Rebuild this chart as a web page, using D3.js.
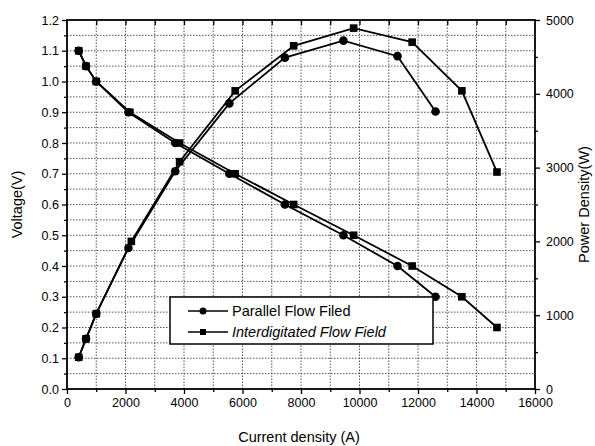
<!DOCTYPE html>
<head>
<meta charset="utf-8">
<style>
body { margin: 0; background: #fff; }
text { font-family: Arial, "Liberation Sans", sans-serif; fill: #000; }
.grid line { stroke: #444; stroke-width: 0.9px; stroke-dasharray: 1.5,1.5; }
.series { fill: none; stroke: #000; stroke-width: 1.8px; }
.tick line { stroke: #000; stroke-width: 1.3px; }
.domain { stroke: none; }
</style>
<title>Voltage and power density</title>
</head>
<body>
<script src="https://cdn.jsdelivr.net/npm/d3@7"></script>
<script>

var width = 595,
    height = 446;
var margin = { left: 67, right: 60, top: 20, bottom: 57 };

// current density (A)
var parCurrent = [400, 650, 1000, 2100, 3700, 5550, 7450, 9450, 11300, 12600];
var intCurrent = [400, 650, 1000, 2150, 3850, 5750, 7750, 9800, 11800, 13500, 14700];
var intPowCurrent = [400, 650, 1000, 2200, 3850, 5750, 7750, 9800, 11800, 13500, 14700];

// voltage (V)
var parVoltage = [1.1, 1.05, 1.0, 0.9, 0.8, 0.7, 0.6, 0.5, 0.4, 0.3];
var intVoltage = [1.1, 1.05, 1.0, 0.9, 0.8, 0.7, 0.6, 0.5, 0.4, 0.3, 0.2];

// power density (W)
var parPower = [430, 680, 1020, 1910, 2950, 3870, 4490, 4720, 4510, 3760];
var intPower = [430, 680, 1020, 2000, 3080, 4040, 4650, 4890, 4700, 4040, 2940];

var xTicks = [0, 2000, 4000, 6000, 8000, 10000, 12000, 14000, 16000];
var yTicks = [0, 0.1, 0.2, 0.3, 0.4, 0.5, 0.6, 0.7, 0.8, 0.9, 1.0, 1.1, 1.2];
var y2Ticks = [0, 1000, 2000, 3000, 4000, 5000];

var svg = d3.select("body").append("svg")
    .attr("width", width)
    .attr("height", height);

var x = d3.scaleLinear().domain([0, 16000]).range([margin.left, width - margin.right]);
var y = d3.scaleLinear().domain([0, 1.2]).range([height - margin.bottom, margin.top]);
var y2 = d3.scaleLinear().domain([0, 5000]).range([height - margin.bottom, margin.top]);

// dotted grid
var grid = svg.append("g").attr("class", "grid");
grid.selectAll(".gx").data(d3.range(1000, 16000, 1000)).enter().append("line")
    .attr("x1", function(d) { return x(d); }).attr("x2", function(d) { return x(d); })
    .attr("y1", y(0)).attr("y2", y(1.2));
grid.selectAll(".gy").data(d3.range(1, 24).map(function(i) { return i * 0.05; })).enter().append("line")
    .attr("x1", x(0)).attr("x2", x(16000))
    .attr("y1", function(d) { return y(d); }).attr("y2", function(d) { return y(d); });

// axes
var minorX = d3.range(1000, 16000, 2000);
var minorY = d3.range(0, 12).map(function(i) { return i * 0.1 + 0.05; });
var minorY2 = d3.range(0, 5).map(function(i) { return i * 1000 + 500; });

svg.append("g").attr("transform", "translate(0," + y(0) + ")")
    .call(d3.axisBottom(x).tickValues(xTicks).tickSize(5).tickPadding(4).tickFormat(d3.format("d")))
    .call(function(g) { g.selectAll("text").style("font-size", "12.5px"); });
svg.append("g").attr("transform", "translate(0," + y(0) + ")")
    .call(d3.axisBottom(x).tickValues(minorX).tickSize(3).tickFormat(""));
svg.append("g").attr("transform", "translate(0," + y(1.2) + ")")
    .call(d3.axisBottom(x).tickValues(d3.range(1000, 16000, 1000)).tickSize(5).tickFormat(""));

svg.append("g").attr("transform", "translate(" + x(0) + ",0)")
    .call(d3.axisLeft(y).tickValues(yTicks).tickSize(5).tickPadding(3).tickFormat(d3.format(".1f")))
    .call(function(g) { g.selectAll("text").style("font-size", "12.5px"); });
svg.append("g").attr("transform", "translate(" + x(0) + ",0)")
    .call(d3.axisLeft(y).tickValues(minorY).tickSize(3).tickFormat(""));

svg.append("g").attr("transform", "translate(" + x(16000) + ",0)")
    .call(d3.axisRight(y2).tickValues(y2Ticks).tickSize(5).tickPadding(6).tickFormat(d3.format("d")))
    .call(function(g) { g.selectAll("text").style("font-size", "12.5px"); });
svg.append("g").attr("transform", "translate(" + x(16000) + ",0)")
    .call(d3.axisRight(y2).tickValues(minorY2).tickSize(3).tickFormat(""));

// frame
svg.append("rect")
    .attr("x", x(0)).attr("y", y(1.2))
    .attr("width", x(16000) - x(0)).attr("height", y(0) - y(1.2))
    .attr("fill", "none").attr("stroke", "#000").attr("stroke-width", 1.8);

// series
function pairs(xs, ys) { return xs.map(function(v, i) { return [v, ys[i]]; }); }

var series = [
  { pts: pairs(parCurrent, parVoltage), yScale: y, marker: "circle" },
  { pts: pairs(intCurrent, intVoltage), yScale: y, marker: "square" },
  { pts: pairs(parCurrent, parPower), yScale: y2, marker: "circle" },
  { pts: pairs(intPowCurrent, intPower), yScale: y2, marker: "square" }
];

series.forEach(function(s) {
  var line = d3.line()
      .x(function(d) { return x(d[0]); })
      .y(function(d) { return s.yScale(d[1]); });
  svg.append("path").datum(s.pts).attr("class", "series").attr("d", line);
  var g = svg.append("g");
  if (s.marker == "circle") {
    g.selectAll("circle").data(s.pts).enter().append("circle")
        .attr("cx", function(d) { return x(d[0]); })
        .attr("cy", function(d) { return s.yScale(d[1]); })
        .attr("r", 4.3);
  } else {
    g.selectAll("rect").data(s.pts).enter().append("rect")
        .attr("x", function(d) { return x(d[0]) - 3.8; })
        .attr("y", function(d) { return s.yScale(d[1]) - 3.8; })
        .attr("width", 7.6).attr("height", 7.6);
  }
});

// legend
var legend = svg.append("g");
legend.append("rect")
    .attr("x", 170).attr("y", 297).attr("width", 263).attr("height", 47)
    .attr("fill", "#fff").attr("stroke", "#000").attr("stroke-width", 1.5);
var legendItems = [
  { label: "Parallel Flow Filed", marker: "circle", italic: false },
  { label: "Interdigitated Flow Field", marker: "square", italic: true }
];
legendItems.forEach(function(it, i) {
  var ly = 311 + i * 21;
  legend.append("line").attr("x1", 188).attr("x2", 228).attr("y1", ly).attr("y2", ly)
      .attr("stroke", "#000").attr("stroke-width", 1.5);
  if (it.marker == "circle") {
    legend.append("circle").attr("cx", 203).attr("cy", ly).attr("r", 3.5);
  } else {
    legend.append("rect").attr("x", 200).attr("y", ly - 3).attr("width", 6).attr("height", 6);
  }
  legend.append("text").attr("x", 232).attr("y", ly + 5)
      .style("font-size", "14.5px")
      .style("font-style", it.italic ? "italic" : "normal")
      .text(it.label);
});

// axis titles
svg.append("text").attr("x", (x(0) + x(16000)) / 2 - 2).attr("y", 442)
    .attr("text-anchor", "middle").style("font-size", "14.5px")
    .text("Current density (A)");
svg.append("text").attr("transform", "translate(22," + y(0.6) + ")rotate(-90)")
    .attr("text-anchor", "middle").style("font-size", "14.5px")
    .text("Voltage(V)");
svg.append("text").attr("transform", "translate(589," + y(0.6) + ")rotate(-90)")
    .attr("text-anchor", "middle").style("font-size", "14.5px")
    .text("Power Density(W)");

</script>
</body>
